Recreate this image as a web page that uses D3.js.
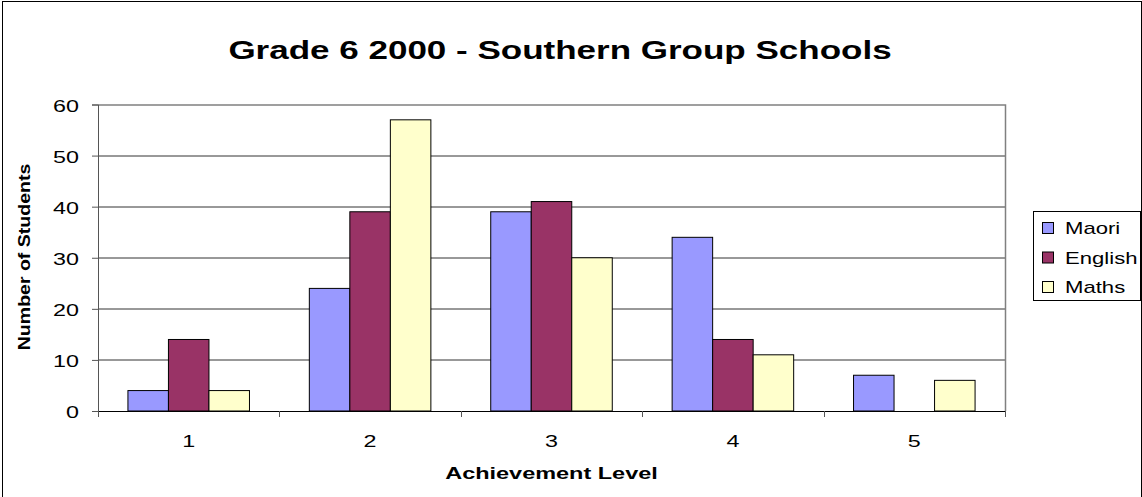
<!DOCTYPE html>
<html>
<head>
<meta charset="utf-8">
<script src="https://cdn.jsdelivr.net/npm/d3@7"></script>
<style>
  body { margin: 0; background: #fff; }
  svg { font-family: Arial, "Liberation Sans", sans-serif; }
</style>
</head>
<body>
<script>
// chart data
var levels = ["1", "2", "3", "4", "5"];
var seriesNames = ["Maori", "English", "Maths"];
var maori = [4, 24, 39, 34, 7];
var english = [14, 39, 41, 14, 0];
var maths = [4, 57, 30, 11, 6];
var yTicks = [0, 10, 20, 30, 40, 50, 60];
var colors = ["#9999ff", "#993366", "#ffffcc"];

var W = 1142, H = 497;
var margin = {top: 104.5, left: 98, right: 137, bottom: 86};
var width = W - margin.left - margin.right,
    height = H - margin.top - margin.bottom;

var rows = levels.map(function(l, i) {
  return {level: l, values: [maori[i], english[i], maths[i]]};
});

// the original renders text wide, so stretch glyphs horizontally
function widen(sel, k) {
  sel.each(function() {
    var w = this.getComputedTextLength();
    d3.select(this).attr("textLength", w * k).attr("lengthAdjust", "spacingAndGlyphs");
  });
}

var svg = d3.select("body").append("svg")
    .attr("width", W)
    .attr("height", H);

// outer frame
svg.append("rect")
    .attr("x", 2.5).attr("y", 1.5)
    .attr("width", W - 3).attr("height", H + 10)
    .attr("fill", "none").attr("stroke", "#000").attr("stroke-width", 1);

var g = svg.append("g")
    .attr("transform", "translate(" + margin.left + "," + margin.top + ")");

var x0 = d3.scaleBand().domain(levels).range([0, width]).paddingInner(0.33).paddingOuter(0.165);
var x1 = d3.scaleBand().domain(seriesNames).range([0, x0.bandwidth()]);
var y = d3.scaleLinear().domain([0, 60]).range([height, 0]);

// gridlines
g.selectAll(".grid")
    .data(yTicks.slice(1, -1))
  .enter().append("line")
    .attr("x1", 0).attr("x2", width)
    .attr("y1", function(d) { return Math.round(y(d)) + 0.5; })
    .attr("y2", function(d) { return Math.round(y(d)) + 0.5; })
    .attr("stroke", "#333").attr("stroke-width", 1);

// plot border top / right
g.append("path")
    .attr("d", "M0,0.5H" + (width + 0.5) + "V" + height)
    .attr("fill", "none").attr("stroke", "#808080").attr("stroke-width", 1.5);

// bars
var groups = g.selectAll(".grp")
    .data(rows)
  .enter().append("g")
    .attr("transform", function(d) { return "translate(" + x0(d.level) + ",0)"; });

groups.selectAll("rect")
    .data(function(d) { return d.values.map(function(v, i) { return {name: seriesNames[i], v: v, i: i}; }); })
  .enter().append("rect")
    .filter(function(d) { return d.v > 0; })
    .attr("x", function(d) { return x1(d.name); })
    .attr("y", function(d) { return y(d.v); })
    .attr("width", x1.bandwidth())
    .attr("height", function(d) { return height - y(d.v); })
    .attr("fill", function(d) { return colors[d.i]; })
    .attr("stroke", "#000").attr("stroke-width", 1);

// y axis
var yAxis = g.append("g")
    .call(d3.axisLeft(y).tickValues(yTicks).tickSize(6).tickPadding(13));
yAxis.select(".domain").attr("stroke", "#555");
yAxis.selectAll("line").attr("stroke", "#555");
yAxis.selectAll("text").attr("font-size", 17).attr("fill", "#000").attr("dy", "0.4em").call(widen, 1.37);

// x axis with ticks between categories
var xAxis = g.append("g")
    .attr("transform", "translate(0," + height + ")");
xAxis.append("line")
    .attr("x1", 0).attr("x2", width).attr("y1", 0.5).attr("y2", 0.5)
    .attr("stroke", "#000");
xAxis.selectAll(".tk")
    .data(d3.range(levels.length + 1))
  .enter().append("line")
    .attr("x1", function(i) { return Math.round(i * width / levels.length) + 0.5; })
    .attr("x2", function(i) { return Math.round(i * width / levels.length) + 0.5; })
    .attr("y1", 0).attr("y2", 6)
    .attr("stroke", "#555");
xAxis.selectAll(".lbl")
    .data(levels)
  .enter().append("text")
    .attr("x", function(d) { return x0(d) + x0.bandwidth() / 2; })
    .attr("y", 36)
    .attr("text-anchor", "middle")
    .attr("font-size", 17)
    .text(function(d) { return d; })
    .call(widen, 1.37);

// titles
svg.append("text")
    .attr("x", 560).attr("y", 59)
    .attr("text-anchor", "middle")
    .attr("font-size", 25).attr("font-weight", "bold")
    .text("Grade 6 2000 - Southern Group Schools")
    .call(widen, 1.4);

svg.append("text")
    .attr("x", margin.left + width / 2).attr("y", 479)
    .attr("text-anchor", "middle")
    .attr("font-size", 17).attr("font-weight", "bold")
    .text("Achievement Level")
    .call(widen, 1.38);

svg.append("text")
    .attr("transform", "translate(30,257) rotate(-90)")
    .attr("text-anchor", "middle")
    .attr("font-size", 16).attr("font-weight", "bold")
    .text("Number of Students")
    .call(widen, 1.22);

// legend
var lg = svg.append("g").attr("transform", "translate(1033,211)");
lg.append("rect")
    .attr("x", 0.5).attr("y", 0.5).attr("width", 107).attr("height", 89)
    .attr("fill", "#fff").attr("stroke", "#000");
seriesNames.forEach(function(n, i) {
  var cy = 17 + i * 29.5;
  lg.append("rect")
      .attr("x", 9.5).attr("y", cy - 5.5).attr("width", 11).attr("height", 11)
      .attr("fill", colors[i]).attr("stroke", "#000");
  lg.append("text")
      .attr("x", 32).attr("y", cy + 6)
      .attr("font-size", 17)
      .text(n)
      .call(widen, 1.3);
});
</script>
</body>
</html>
